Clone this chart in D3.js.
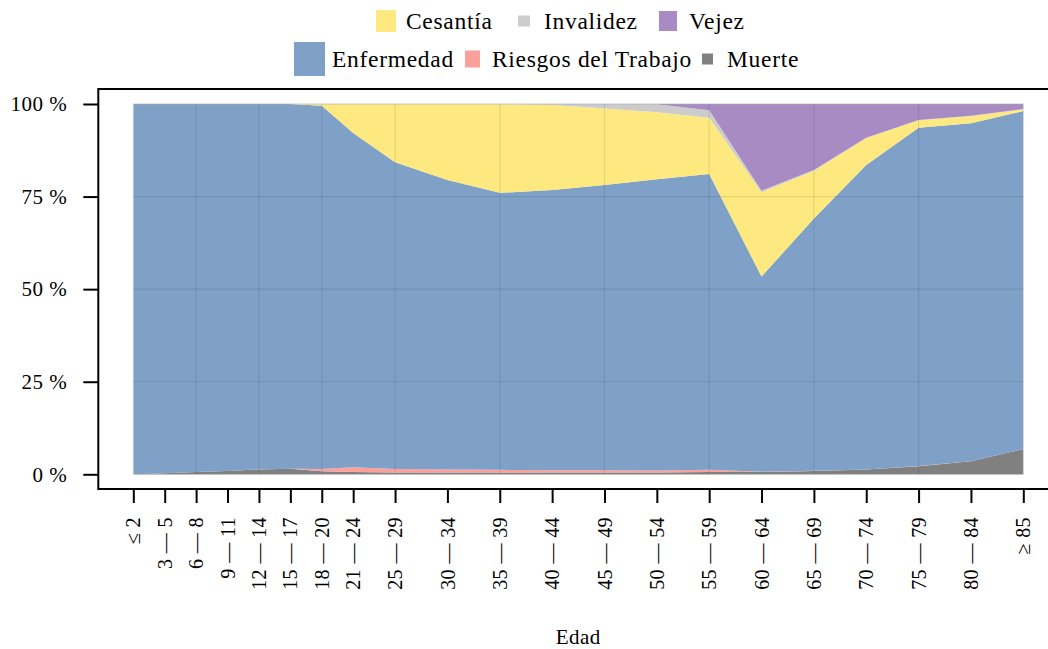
<!doctype html>
<html>
<head>
<meta charset="UTF-8">
<title>Edad</title>
<script src="https://cdn.jsdelivr.net/npm/d3@7"></script>
<style>
    body { margin: 0; background: #fff; }
    svg text { font-family: "Liberation Serif", "DejaVu Serif", serif; fill: #000; }
</style>
</head>
<body>
<svg width="1048" height="649"></svg>
<script>
    // age groups (lower bound used as x position)
    var ages = [0, 3, 6, 9, 12, 15, 18, 21, 25, 30, 35, 40, 45, 50, 55, 60, 65, 70, 75, 80, 85];
    var ageLabels = ["≤ 2", "3 — 5", "6 — 8", "9 — 11", "12 — 14", "15 — 17", "18 — 20", "21 — 24",
        "25 — 29", "30 — 34", "35 — 39", "40 — 44", "45 — 49", "50 — 54", "55 — 59", "60 — 64",
        "65 — 69", "70 — 74", "75 — 79", "80 — 84", "≥ 85"];

    // shares in % per age group
    var muerte     = [0, 0.3, 0.6, 0.9, 1.3, 1.5, 0.8, 0.6, 0.5, 0.5, 0.5, 0.5, 0.5, 0.5, 0.6, 0.6, 0.9, 1.3, 2.2, 3.5, 6.8];
    var riesgos    = [0, 0, 0, 0, 0, 0, 0.6, 1.3, 0.9, 0.8, 0.7, 0.6, 0.6, 0.5, 0.6, 0.1, 0.05, 0.02, 0.02, 0.02, 0.02];
    var enfermedad = [100, 99.7, 99.4, 99.1, 98.7, 98.5, 98.1, 90.3, 82.9, 78.2, 74.8, 75.7, 77.0, 78.7, 79.9, 52.7, 68.15, 82.2, 91.4, 91.3, 91.3];
    var cesantia   = [0, 0, 0, 0, 0, 0, 0.5, 7.8, 15.7, 20.5, 24.0, 22.9, 20.7, 18.1, 15.2, 22.8, 12.9, 7.3, 2.0, 1.9, 0.5];
    var invalidez  = [0, 0, 0, 0, 0, 0, 0, 0, 0, 0, 0, 0.3, 1.2, 2.1, 2.0, 0.4, 0.2, 0.1, 0.1, 0.1, 0.05];
    var vejez      = [0, 0, 0, 0, 0, 0, 0, 0, 0, 0, 0, 0, 0, 0.1, 1.7, 23.4, 17.8, 9.1, 4.3, 3.2, 1.35];

    var yTicks = [0, 0.25, 0.5, 0.75, 1];
    var yTickLabels = ["0 %", "25 %", "50 %", "75 %", "100 %"];

    // stacking order, bottom to top
    var keys = ["Muerte", "Riesgos del Trabajo", "Enfermedad", "Cesantía", "Invalidez", "Vejez"];
    var seriesValues = {
        "Muerte": muerte,
        "Riesgos del Trabajo": riesgos,
        "Enfermedad": enfermedad,
        "Cesantía": cesantia,
        "Invalidez": invalidez,
        "Vejez": vejez
    };
    var colors = {
        "Muerte": "#808080",
        "Riesgos del Trabajo": "#FDA09B",
        "Enfermedad": "#7FA1C7",
        "Cesantía": "#FDE97F",
        "Invalidez": "#CCCCCC",
        "Vejez": "#A88BC3"
    };

    var table = ages.map(function(a, i) {
        var row = { age: a };
        keys.forEach(function(k) { row[k] = seriesValues[k][i]; });
        return row;
    });

    var svg = d3.select("svg");

    var x = d3.scaleLinear().domain([0, 85]).range([133.3, 1023.3]);
    var y = d3.scaleLinear().domain([0, 1]).range([474.3, 104]);

    var stack = d3.stack().keys(keys).offset(d3.stackOffsetExpand);
    var layers = stack(table);

    var area = d3.area()
        .x(function(d) { return x(d.data.age); })
        .y0(function(d) { return y(d[0]); })
        .y1(function(d) { return y(d[1]); });

    svg.append("g").selectAll("path")
        .data(layers)
        .enter().append("path")
        .attr("d", area)
        .attr("fill", function(d) { return colors[d.key]; });

    // outline of the stacked block
    svg.append("rect")
        .attr("x", x(0)).attr("y", y(1))
        .attr("width", x(85) - x(0)).attr("height", y(0) - y(1))
        .attr("fill", "none").attr("stroke", "#ccc").attr("stroke-width", 0.8)
        .attr("stroke-opacity", 0.7);

    // grid on top
    var grid = svg.append("g").attr("stroke", "#000").attr("stroke-opacity", 0.09).attr("stroke-width", 1.2);
    grid.selectAll("line.h")
        .data(yTicks)
        .enter().append("line")
        .attr("x1", x(0)).attr("x2", x(85))
        .attr("y1", function(d) { return y(d); })
        .attr("y2", function(d) { return y(d); });
    grid.selectAll("line.v")
        .data(ages.filter(function(d, i) { return i % 2 === 0 && i > 0 && i < ages.length - 1; }))
        .enter().append("line")
        .attr("y1", y(0)).attr("y2", y(1))
        .attr("x1", function(d) { return x(d); })
        .attr("x2", function(d) { return x(d); });

    // frame: left, top, bottom
    var frame = svg.append("g").attr("stroke", "#000").attr("stroke-width", 2).attr("fill", "none");
    frame.append("path").attr("d", "M1048,89H98.3V489H1048");

    // x axis
    var xAxis = d3.axisBottom(x)
        .tickValues(ages)
        .tickSize(14)
        .tickFormat(function(d, i) { return ageLabels[i]; });
    var gx = svg.append("g").attr("transform", "translate(0,489)").call(xAxis);
    gx.select(".domain").remove();
    gx.selectAll(".tick line").attr("stroke", "#000").attr("stroke-width", 2);
    gx.selectAll(".tick text")
        .attr("font-size", "20px")
        .attr("font-family", "Liberation Serif")
        .attr("letter-spacing", "0.4px")
        .attr("text-anchor", "end")
        .attr("transform", "rotate(-90)")
        .attr("x", -28)
        .attr("y", 0)
        .attr("dy", "0.33em");

    // y axis
    var yAxis = d3.axisLeft(y)
        .tickValues(yTicks)
        .tickSize(15)
        .tickFormat(function(d, i) { return yTickLabels[i]; });
    var gy = svg.append("g").attr("transform", "translate(98.3,0)").call(yAxis);
    gy.select(".domain").remove();
    gy.selectAll(".tick line").attr("stroke", "#000").attr("stroke-width", 2);
    gy.selectAll(".tick text")
        .attr("font-size", "21px")
        .attr("font-family", "Liberation Serif")
        .attr("letter-spacing", "0.5px")
        .attr("x", -31)
        .attr("dy", "0.32em");

    // axis title
    svg.append("text")
        .attr("x", (x(0) + x(85)) / 2)
        .attr("y", 644)
        .attr("text-anchor", "middle")
        .attr("font-size", "21px")
        .attr("letter-spacing", "0.5px")
        .text("Edad");

    // legend (two rows, key sizes as in the reference)
    var legendRows = [["Cesantía", "Invalidez", "Vejez"], ["Enfermedad", "Riesgos del Trabajo", "Muerte"]];
    var legendLayout = {
        "Cesantía": { kx: 376, kw: 20, kh: 22, tx: 406, cy: 21 },
        "Invalidez": { kx: 518, kw: 12, kh: 11, tx: 544, cy: 21 },
        "Vejez": { kx: 659, kw: 18, kh: 20, tx: 689, cy: 21 },
        "Enfermedad": { kx: 294, kw: 31, kh: 34, tx: 332, cy: 59 },
        "Riesgos del Trabajo": { kx: 465, kw: 15, kh: 17, tx: 492, cy: 59 },
        "Muerte": { kx: 702, kw: 11, kh: 11, tx: 727, cy: 59 }
    };
    var legend = svg.append("g");
    legendRows.forEach(function(row) {
        row.forEach(function(k) {
            var L = legendLayout[k];
            legend.append("rect")
                .attr("x", L.kx).attr("y", L.cy - L.kh / 2)
                .attr("width", L.kw).attr("height", L.kh)
                .attr("fill", colors[k]);
            legend.append("text")
                .attr("x", L.tx).attr("y", L.cy)
                .attr("dy", "0.35em")
                .attr("font-size", "23.5px")
                .attr("letter-spacing", "0.7px")
                .text(k);
        });
    });
</script>
</body>
</html>
